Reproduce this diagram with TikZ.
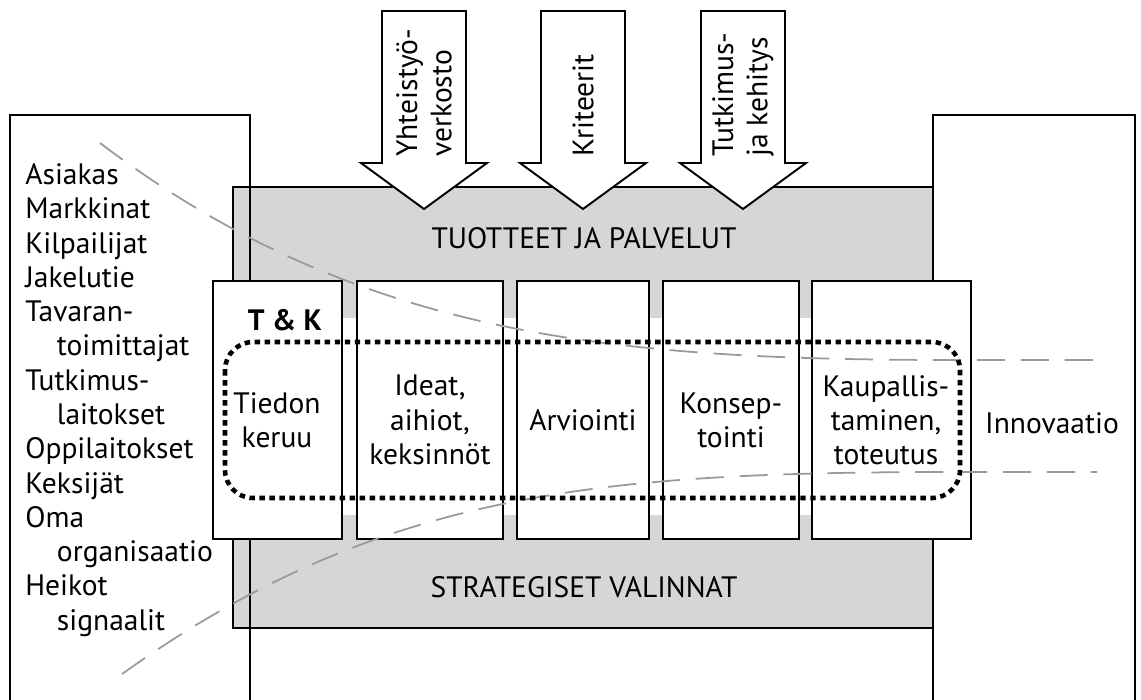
\documentclass[tikz,border=0pt]{standalone}
\usepackage{fontspec}
\setmainfont{PT Sans}
\usepackage{xcolor}

\tikzset{
  frame/.style={line width=1.1pt},
  stagebox/.style={draw, line width=1.1pt, fill=white},
  inflow/.style={draw, line width=1.1pt, fill=white, line join=miter},
  funnel/.style={draw=black!40, line width=1pt, dash pattern=on 16pt off 9pt},
  gate/.style={draw, line width=2.6pt, dash pattern=on 3.1pt off 2.6pt, rounded corners=16pt},
}

\begin{document}
\begin{tikzpicture}[x=0.02cm, y=-0.02cm, font=\fontsize{16.8}{19.5}\selectfont]
        \useasboundingbox (0,0) rectangle (1141,699);

        % grey field with white band behind the stages
        \fill[black!16] (233,187) rectangle (933,318);
        \fill[black!16] (233,515) rectangle (933,628);
        \draw[frame] (233,187) rectangle (933,628);

        % side frames
        \draw[frame] (10,705) -- (10,115) -- (250,115) -- (250,705);
        \draw[frame] (933,705) -- (933,115) -- (1135,115) -- (1135,705);

        % block arrows from the top
        \foreach \cx/\nm/\txt in {424/yhteis/{Yhteistyö-\\verkosto}, 583/krit/{Kriteerit}, 743/tutk/{Tutkimus-\\ja kehitys}} {
            \draw[inflow] (\cx-42,11) -- (\cx+42,11) -- (\cx+42,163) -- (\cx+63,163)
                -- (\cx,209) -- (\cx-63,163) -- (\cx-42,163) -- cycle;
            \node[rotate=90, anchor=west, align=left, inner sep=0pt] (\nm) at (\cx,157) {\txt};
        }

        \node (tuotteet) at (584,238) {TUOTTEET JA PALVELUT};
        \node (strateg) at (584,587) {STRATEGISET VALINNAT};

        % stages
        \draw[stagebox] (213,281) rectangle (342,539);
        \draw[stagebox] (357,281) rectangle (503,539);
        \draw[stagebox] (517,281) rectangle (649,539);
        \draw[stagebox] (663,281) rectangle (799,539);
        \draw[stagebox] (812,281) rectangle (971,539);

        % funnel
        \draw[funnel] (100,143) .. controls (360,340) and (620,360) .. (959,360) -- (1097,360);
        \draw[funnel] (122,674) .. controls (380,490) and (600,472) .. (959,472) -- (1097,472);

        \draw[gate] (225,342) rectangle (960,498);

        \node (tk) at (285,320) {\bfseries T \& K};
        \node[align=center] (tiedon) at (277,420) {Tiedon\\keruu};
        \node[align=center] (ideat) at (430,420) {Ideat,\\aihiot,\\keksinnöt};
        \node (arviointi) at (583,420) {Arviointi};
        \node[align=center] (konsep) at (731,420) {Konsep-\\tointi};
        \node[align=center] (kaupall) at (886,420) {Kaupallis-\\taminen,\\toteutus};
        \node (innovaatio) at (1052,423) {Innovaatio};

        % sources
        \node[anchor=west, align=left, inner sep=0pt] (lahteet) at (25,400)
            {Asiakas\\Markkinat\\Kilpailijat\\Jakelutie\\Tavaran-\\\hspace*{18pt}toimittajat\\
             Tutkimus-\\\hspace*{18pt}laitokset\\Oppilaitokset\\Keksijät\\Oma\\
             \hspace*{18pt}organisaatio\\Heikot\\\hspace*{18pt}signaalit};
    \end{tikzpicture}
\end{document}
